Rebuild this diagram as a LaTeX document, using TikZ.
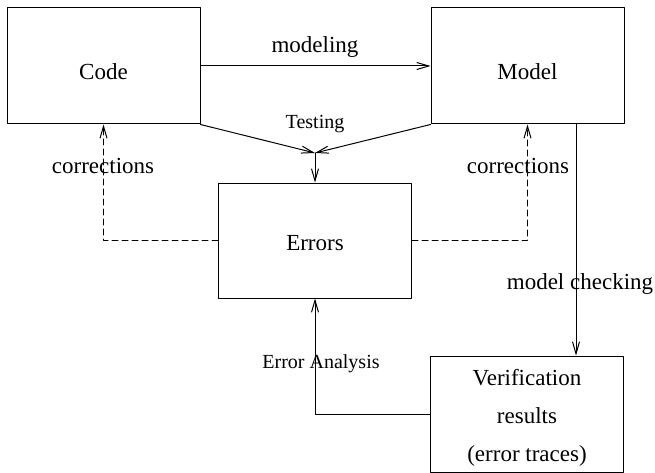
\documentclass[tikz,border=0pt]{standalone}
\usepackage{fontspec}
\setmainfont{Liberation Serif}
\usetikzlibrary{arrows.meta}

\begin{document}
\begin{tikzpicture}[x=1pt,y=-1pt,line cap=round,line join=round,line width=1pt,
	box/.style={draw,rectangle,inner sep=0pt,minimum width=193pt,minimum height=116pt,
		font=\fontsize{23}{27}\selectfont},
	lbl/.style={anchor=base,inner sep=0pt,font=\fontsize{23}{27}\selectfont},
	small/.style={font=\fontsize{20}{24}\selectfont},
	fix/.style={dash pattern=on 6pt off 4pt},
	>={Straight Barb[length=12pt,width=7pt]}]
	\useasboundingbox (0,0) rectangle (655,473);
	% boxes
	\node[box,text height=28pt,text depth=0pt] (code) at (103.5,66) {Code};
	\node[box,text height=28pt,text depth=0pt] (model) at (527.5,66) {Model};
	\node[box,minimum height=115pt,text height=19pt,text depth=0pt] (errors) at (315,240.5) {Errors};
	\node[box,align=center,font=\fontsize{23}{38}\selectfont] (verif) at (527,414)
		{\rule{0pt}{23pt}Verification\\results\\(error traces)};
	\coordinate (merge) at (315,153);

	% modeling
	\draw[->] (code.east) -- (model.west);
	\node[lbl] (modeling) at (315,53) {modeling};
	% testing
	\draw[->] (code.south east) -- (merge);
	\draw[->] (model.south west) -- (merge);
	\draw[->] (merge) -- (errors.north);
	\node[lbl,small] (testing) at (315,129) {Testing};
	% corrections
	\draw[->,fix] (errors.west) -| (code.south);
	\draw[->,fix] (errors.east) -| (model.south);
	\node[lbl] (corrL) at (103,173) {corrections};
	\node[lbl] (corrR) at (518,173) {corrections};
	% model checking
	\draw[->] ([xshift=48.5pt]model.south) -- ([xshift=48.5pt]model.south |- verif.north);
	\node[lbl] (checking) at (580,289) {model checking};
	% error analysis
	\draw[->] (verif.west) -| (errors.south);
	\node[lbl,small] (analysis) at (321,368) {Error Analysis};
\end{tikzpicture}
\end{document}
